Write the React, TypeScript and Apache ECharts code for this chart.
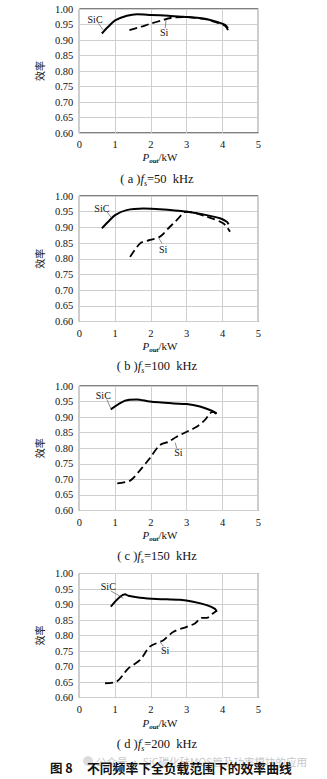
import React, { useEffect, useRef } from 'react';
import * as echarts from 'echarts';

// ---------- data (x = Pout / kW, y = efficiency) ----------
const sicA = [[0.63, 0.921], [0.8, 0.942], [1.0, 0.963], [1.33, 0.978], [1.61, 0.983], [2.0, 0.981], [2.5, 0.978], [2.91, 0.975], [3.47, 0.969], [3.85, 0.958], [4.08, 0.948], [4.15, 0.938]];
const siA = [[1.4, 0.932], [1.7, 0.942], [2.0, 0.953], [2.3, 0.963], [2.55, 0.971], [2.9, 0.974], [3.47, 0.968], [3.85, 0.956], [4.08, 0.945], [4.2, 0.921]];

const sicB = [[0.63, 0.897], [0.8, 0.917], [1.0, 0.939], [1.32, 0.955], [1.79, 0.96], [2.25, 0.958], [3.0, 0.95], [3.56, 0.939], [3.93, 0.929], [4.12, 0.918], [4.17, 0.91]];
const siB = [[1.42, 0.806], [1.7, 0.849], [1.98, 0.86], [2.25, 0.87], [2.53, 0.902], [2.72, 0.923], [2.9, 0.945], [3.0, 0.95], [3.56, 0.934], [4.02, 0.913], [4.21, 0.886]];

const sicC = [[0.88, 0.925], [1.28, 0.953], [1.6, 0.957], [1.97, 0.95], [2.63, 0.944], [3.0, 0.942], [3.37, 0.934], [3.65, 0.923], [3.84, 0.912]];
const siC = [[1.06, 0.687], [1.42, 0.696], [1.7, 0.73], [1.97, 0.768], [2.25, 0.81], [2.49, 0.821], [2.72, 0.837], [3.0, 0.853], [3.28, 0.869], [3.51, 0.891], [3.65, 0.912], [3.74, 0.917], [3.82, 0.91]];

const sicD = [[0.88, 0.893], [1.28, 0.933], [1.37, 0.928], [1.7, 0.922], [2.16, 0.918], [2.81, 0.915], [3.18, 0.909], [3.56, 0.898], [3.79, 0.886], [3.84, 0.877]];
const siD = [[0.72, 0.646], [1.04, 0.651], [1.37, 0.694], [1.7, 0.721], [1.97, 0.764], [2.35, 0.785], [2.63, 0.812], [3.0, 0.828], [3.23, 0.839], [3.42, 0.857], [3.56, 0.857], [3.74, 0.872], [3.84, 0.88]];

const sicSeries = [sicA, sicB, sicC, sicD];
const siSeries = [siA, siB, siC, siD];

// annotation anchors in data units
const sicLabelPos = [[0.44, 0.967], [0.63, 0.961], [0.67, 0.971], [0.81, 0.957]];
const sicLeader = [
  [[0.53, 0.954], [0.67, 0.932]],
  [[0.77, 0.95], [0.91, 0.929]],
  [[0.77, 0.957], [0.88, 0.928]],
  [[0.88, 0.944], [1.23, 0.92]],
];
const siLabelPos = [[2.37, 0.924], [2.34, 0.831], [2.77, 0.786], [2.4, 0.751]];
const siLeader = [
  [[2.4, 0.938], [2.42, 0.965]],
  [[2.31, 0.849], [2.22, 0.866]],
  [[2.72, 0.8], [2.68, 0.818]],
  [[2.35, 0.765], [2.26, 0.779]],
];

const xMin = 0, xMax = 5, xStep = 1;
const yMin = 0.6, yMax = 1.0, yStep = 0.05;
const yName = '效率';
const panelLetters = ['a', 'b', 'c', 'd'];
const freqs = ['50', '100', '150', '200'];
const figTitleNo = '图 8';
const figTitle = '不同频率下全负载范围下的效率曲线';
const watermark = '公众号 · SiC碳化硅MOS管及功率模块的应用';

// ---------- layout ----------
const serif = '"Liberation Serif", "Times New Roman", serif';
const cjk = '"Noto Sans CJK SC", sans-serif';
const gridLeft = 79.3;
const gridWidth = 179;
const panelTops = [9, 196, 386, 573.5];
const panelHeights = [124, 125.5, 124.5, 124];
const xNameY = [155, 344, 533, 721.5];
const captionY = [178.3, 365.7, 555, 743.3];
const centerX = 157;

export default function App() {
  const ref = useRef<HTMLDivElement>(null);
  useEffect(() => {
    if (!ref.current) return;
    const chart = echarts.init(ref.current, null, { renderer: 'svg' });

    const grids = panelTops.map((t, i) => ({
      left: gridLeft,
      top: t,
      width: gridWidth,
      height: panelHeights[i],
      show: true,
      borderColor: '#000',
      borderWidth: 1,
      backgroundColor: 'transparent',
    }));

    const xAxes = panelTops.map((_, i) => ({
      type: 'value',
      gridIndex: i,
      min: xMin,
      max: xMax,
      interval: xStep,
      axisLine: { show: false },
      axisTick: { show: false },
      axisLabel: { color: '#111', fontFamily: serif, fontSize: 10.5, margin: 6 },
      splitLine: { show: true, lineStyle: { color: '#cfcfcf', width: 1 } },
    }));

    const yAxes = panelTops.map((_, i) => ({
      type: 'value',
      gridIndex: i,
      min: yMin,
      max: yMax,
      interval: yStep,
      name: yName,
      nameLocation: 'middle',
      nameRotate: 90,
      nameGap: 22,
      nameTextStyle: { fontFamily: cjk, fontSize: 10, color: '#222' },
      axisLine: { show: false },
      axisTick: { show: false },
      axisLabel: {
        color: '#111',
        fontFamily: serif,
        fontSize: 10.5,
        margin: 6,
        formatter: (v: number) => v.toFixed(2),
      },
      splitLine: { show: true, lineStyle: { color: '#cfcfcf', width: 1 } },
    }));

    const annot = (pos: number[], txt: string, leader: number[][]) => ({
      markPoint: {
        silent: true,
        symbol: 'rect',
        symbolSize: 1,
        itemStyle: { color: 'rgba(0,0,0,0)' },
        label: {
          show: true,
          position: 'inside',
          formatter: txt,
          fontFamily: serif,
          fontSize: 10,
          color: '#111',
        },
        data: [{ coord: pos }],
      },
      markLine: {
        silent: true,
        symbol: ['none', 'none'],
        label: { show: false },
        lineStyle: { color: '#444', width: 0.6, type: 'solid' },
        data: [[{ coord: leader[0] }, { coord: leader[1] }]],
      },
    });

    const series: any[] = [];
    for (let i = 0; i < 4; i++) {
      series.push({
        type: 'line',
        name: 'SiC',
        xAxisIndex: i,
        yAxisIndex: i,
        data: sicSeries[i],
        showSymbol: false,
        smooth: 0.3,
        lineStyle: { color: '#000', width: 2 },
        ...annot(sicLabelPos[i], 'SiC', sicLeader[i]),
      });
      series.push({
        type: 'line',
        name: 'Si',
        xAxisIndex: i,
        yAxisIndex: i,
        data: siSeries[i],
        showSymbol: false,
        smooth: 0.3,
        lineStyle: { color: '#000', width: 1.8, type: [8, 4] },
        ...annot(siLabelPos[i], 'Si', siLeader[i]),
      });
    }

    const graphic: any[] = [];
    for (let i = 0; i < 4; i++) {
      graphic.push({
        type: 'text',
        x: centerX + 3,
        y: xNameY[i],
        style: {
          text: '{i|P}{s|out}{n|/kW}',
          textAlign: 'center',
          textVerticalAlign: 'middle',
          rich: {
            i: { fontFamily: serif, fontStyle: 'italic', fontSize: 11, fill: '#111', lineHeight: 14, verticalAlign: 'bottom' },
            s: { fontFamily: serif, fontStyle: 'italic', fontWeight: 'bold', fontSize: 7, fill: '#111', lineHeight: 14, verticalAlign: 'bottom', padding: [0, 0, -2, 0] },
            n: { fontFamily: serif, fontSize: 11, fill: '#111', lineHeight: 14, verticalAlign: 'bottom' },
          },
        },
      });
      graphic.push({
        type: 'text',
        x: centerX,
        y: captionY[i],
        style: {
          text: `{n|( ${panelLetters[i]} )}{i|f}{s|s}{n|=${freqs[i]}  kHz}`,
          textAlign: 'center',
          textVerticalAlign: 'middle',
          rich: {
            n: { fontFamily: serif, fontSize: 12.5, fill: '#111', lineHeight: 14, verticalAlign: 'bottom' },
            i: { fontFamily: serif, fontStyle: 'italic', fontSize: 12.5, fill: '#111', lineHeight: 14, verticalAlign: 'bottom' },
            s: { fontFamily: serif, fontStyle: 'italic', fontSize: 8, fill: '#111', lineHeight: 14, verticalAlign: 'bottom', padding: [0, 0, -2, 0] },
          },
        },
      });
    }
    graphic.push({
      type: 'circle',
      shape: { cx: 88, cy: 761, r: 5 },
      style: { fill: '#dcdcdc' },
    });
    graphic.push({
      type: 'text',
      x: 96,
      y: 761,
      style: {
        text: watermark,
        fontFamily: cjk,
        fontSize: 10.5,
        fill: '#c8c8c8',
        textVerticalAlign: 'middle',
      },
    });
    graphic.push({
      type: 'text',
      x: 50,
      y: 767,
      style: {
        text: figTitleNo,
        fontFamily: cjk,
        fontWeight: 'bold',
        fontSize: 12.5,
        fill: '#111',
        textVerticalAlign: 'middle',
      },
    });
    graphic.push({
      type: 'text',
      x: 87,
      y: 767,
      style: {
        text: figTitle,
        fontFamily: cjk,
        fontWeight: 'bold',
        fontSize: 12.8,
        fill: '#111',
        textVerticalAlign: 'middle',
      },
    });

    chart.setOption({
      animation: false,
      backgroundColor: '#fff',
      grid: grids,
      xAxis: xAxes,
      yAxis: yAxes,
      series,
      graphic,
    });
    return () => chart.dispose();
  }, []);

  return (
    <div
      ref={ref}
      style={{ position: 'absolute', left: 0, top: 0, width: 327, height: 779, background: '#fff' }}
    />
  );
}
